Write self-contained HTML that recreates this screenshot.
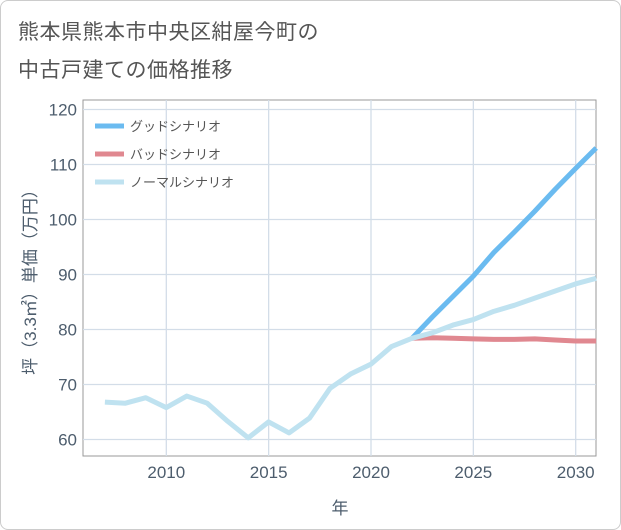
<!DOCTYPE html>
<html><head><meta charset="utf-8"><style>
body{margin:0;background:#fff;font-family:"Liberation Sans","Noto Sans CJK JP",sans-serif}
#frame{position:absolute;left:0;top:0;width:619px;height:528px;border:1px solid #ccc;border-radius:8px;background:#fff}
.t{position:absolute;left:18px;font-size:21px;color:#555;letter-spacing:0.5px}
</style></head><body>
<div id="frame"></div>
<div class="t" style="top:16px">熊本県熊本市中央区紺屋今町の</div>
<div class="t" style="top:54px">中古戸建ての価格推移</div>
<svg id="c" width="621" height="530" style="position:absolute;left:0;top:0"></svg>
<script>
const years=[2007,2008,2009,2010,2011,2012,2013,2014,2015,2016,2017,2018,2019,2020,2021,2022,2023,2024,2025,2026,2027,2028,2029,2030,2031];
const normal=[66.8,66.6,67.6,65.8,67.9,66.6,63.3,60.3,63.2,61.2,63.9,69.3,71.9,73.7,76.9,78.4,79.4,80.8,81.8,83.3,84.4,85.7,87,88.3,89.3];
const fyears=[2022,2023,2024,2025,2026,2027,2028,2029,2030,2031];
const good=[78.4,82.3,86,89.7,94,97.7,101.5,105.5,109.3,113];
const bad=[78.4,78.5,78.4,78.3,78.2,78.2,78.3,78.1,77.9,77.9];
const yTicks=[60,70,80,90,100,110,120];
const xTicks=[2010,2015,2020,2025,2030];
const L=83,R=596,T=100,B=456;
const xs=y=>166.3+(y-2010)*20.47;
const ys=v=>439.5-(v-60)*5.5;
const svg=document.getElementById('c');const NS='http://www.w3.org/2000/svg';
function mk(tag,a,p){const e=document.createElementNS(NS,tag);for(const k in a)e.setAttribute(k,a[k]);(p||svg).appendChild(e);return e;}
const bg=mk('rect',{x:L,y:T,width:R-L,height:B-T,fill:'#fff',stroke:'#999'});


yTicks.forEach(v=>{const g=mk('line',{x1:L,x2:R,y1:ys(v),y2:ys(v),stroke:'#d3dde8','stroke-width':1.3});


const t=mk('text',{x:77,y:ys(v)+6,'text-anchor':'end','font-size':17,fill:'#4d5d6d'});t.textContent=v;

});
xTicks.forEach(v=>{const g=mk('line',{x1:xs(v),x2:xs(v),y1:T,y2:B,stroke:'#d3dde8','stroke-width':1.3});


const t=mk('text',{x:xs(v),y:478,'text-anchor':'middle','font-size':17,fill:'#4d5d6d'});t.textContent=v;

});
function line(xa,va,color,name){const p=mk('polyline',{points:xa.map((x,i)=>xs(x)+','+ys(va[i])).join(' '),fill:'none',stroke:color,'stroke-width':5,'stroke-linejoin':'round'});

}
line(fyears,good,'#6bbbf0','good-scenario-line');
line(fyears,bad,'#e08890','bad-scenario-line');
line(years,normal,'#bfe2f0','normal-scenario-line');
const leg=[['グッドシナリオ','#6bbbf0'],['バッドシナリオ','#e08890'],['ノーマルシナリオ','#bfe2f0']];
leg.forEach((d,i)=>{const y=126+i*28;
const l=mk('line',{x1:95,x2:124,y1:y,y2:y,stroke:d[1],'stroke-width':5});


const t=mk('text',{x:130,y:y+5,'font-size':13,fill:'#555'});t.textContent=d[0];

});
const yt=mk('text',{x:0,y:0,transform:'translate(36,278) rotate(-90)','text-anchor':'middle','font-size':17,fill:'#4d5d6d'});yt.textContent='坪（3.3㎡）単価（万円）';


const xt=mk('text',{x:340,y:514,'text-anchor':'middle','font-size':17,fill:'#4d5d6d'});xt.textContent='年';


</script>
</body></html>
